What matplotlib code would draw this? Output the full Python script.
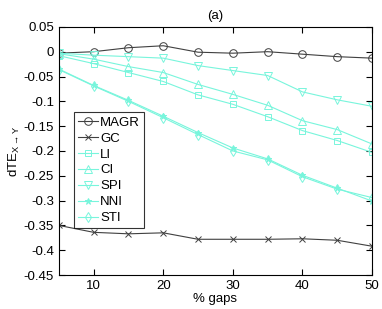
import matplotlib
matplotlib.use('Agg')
import matplotlib.pyplot as plt

plt.rcParams['font.family'] = ['Liberation Sans', 'DejaVu Sans']
plt.rcParams['axes.unicode_minus'] = True

gaps = [5, 10, 15, 20, 25, 30, 35, 40, 45, 50]

magr = [-0.003, 0.0, 0.008, 0.012, -0.001, -0.003, 0.0, -0.005, -0.010, -0.013]
gc = [-0.350, -0.364, -0.367, -0.365, -0.378, -0.378, -0.378, -0.377, -0.380, -0.392]
li = [-0.008, -0.024, -0.042, -0.060, -0.087, -0.106, -0.131, -0.159, -0.179, -0.203]
ci = [-0.004, -0.015, -0.030, -0.042, -0.066, -0.086, -0.108, -0.139, -0.157, -0.186]
spi = [-0.003, -0.007, -0.010, -0.013, -0.028, -0.038, -0.048, -0.081, -0.097, -0.110]
nni = [-0.035, -0.068, -0.098, -0.130, -0.163, -0.194, -0.216, -0.249, -0.275, -0.301]
sti = [-0.036, -0.069, -0.100, -0.133, -0.167, -0.200, -0.218, -0.252, -0.277, -0.294]

gray = '#404040'
cyan = '#78f5dc'

fig = plt.figure(figsize=(3.82, 3.09), dpi=100)
ax = fig.add_axes([0.154, 0.11, 0.82, 0.803])

ax.plot(gaps, magr, color=gray, marker='o', mfc='none', ms=5.5, lw=0.8, mew=0.7, label='MAGR')
ax.plot(gaps, gc, color=gray, marker='x', ms=4, lw=0.8, mew=0.7, label='GC')
ax.plot(gaps, li, color=cyan, marker='s', mfc='none', ms=4.5, lw=0.8, mew=0.7, label='LI')
ax.plot(gaps, ci, color=cyan, marker='^', mfc='none', ms=5.5, lw=0.8, mew=0.7, label='CI')
ax.plot(gaps, spi, color=cyan, marker='v', mfc='none', ms=5.5, lw=0.8, mew=0.7, label='SPI')
ax.plot(gaps, nni, color=cyan, marker='*', ms=5, lw=0.8, mew=0.7, label='NNI')
ax.plot(gaps, sti, color=cyan, marker='d', mfc='none', ms=5.5, lw=0.8, mew=0.7, label='STI')

ax.set_xlim(5, 50)
ax.set_ylim(-0.45, 0.05)
ax.set_xticks([10, 20, 30, 40, 50])
yt = [0.05, 0, -0.05, -0.1, -0.15, -0.2, -0.25, -0.3, -0.35, -0.4, -0.45]
ax.set_yticks(yt)
ax.set_yticklabels(['%g' % v for v in yt])
ax.tick_params(direction='in', top=True, right=True, labelsize=9.5, length=4, width=0.8)
for s in ax.spines.values():
    s.set_linewidth(0.8)

ax.set_xlabel('% gaps', fontsize=9.5, labelpad=1)
ax.set_ylabel(r'$\mathregular{dTE_{X\rightarrow Y}}$', fontsize=9.5, labelpad=1)
ax.set_title('(a)', fontsize=9.5, pad=6)

leg = ax.legend(loc='upper left', bbox_to_anchor=(0.048, 0.655), fontsize=9.5,
                frameon=True, fancybox=False, handlelength=1.5, handletextpad=0.2,
                labelspacing=0.28, borderpad=0.3, borderaxespad=0)
leg.get_frame().set_edgecolor('black')
leg.get_frame().set_linewidth(0.8)

fig.savefig('out.png', dpi=100)
